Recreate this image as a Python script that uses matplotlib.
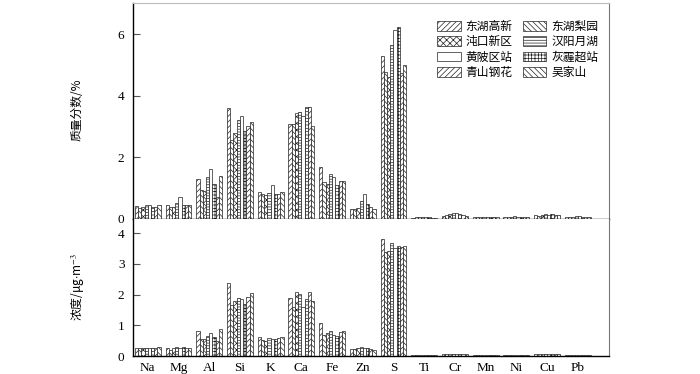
import matplotlib.pyplot as plt
import numpy as np

plt.rcParams['font.family'] = ['Liberation Serif', 'Noto Sans CJK SC', 'DejaVu Sans']
plt.rcParams['mathtext.fontset'] = 'stix'
plt.rcParams['hatch.linewidth'] = 0.5

elements = ['Na', 'Mg', 'Al', 'Si', 'K', 'Ca', 'Fe', 'Zn', 'S', 'Ti', 'Cr', 'Mn', 'Ni', 'Cu', 'Pb']
stations = ['东湖高新', '东湖梨园', '沌口新区', '汉阳月湖', '黄陂区站', '灰霾超站', '青山钢花', '吴家山']
hatches = ['//////', '\\\\\\\\\\\\', 'xxxxx', '------', '', '+++++', '//////', '\\\\\\\\\\\\']

# mass fraction (%), one row per element, one column per station
mass_frac = [
    [0.41, 0.35, 0.37, 0.43, 0.46, 0.39, 0.39, 0.43],
    [0.46, 0.39, 0.37, 0.52, 0.72, 0.46, 0.43, 0.46],
    [1.29, 0.93, 0.89, 1.34, 1.61, 1.13, 0.72, 1.39],
    [3.60, 2.55, 2.80, 3.21, 3.34, 2.85, 3.00, 3.15],
    [0.87, 0.80, 0.76, 0.85, 1.08, 0.80, 0.80, 0.87],
    [3.08, 3.08, 3.45, 3.47, 3.34, 3.64, 3.64, 3.02],
    [1.69, 1.19, 1.13, 1.45, 1.34, 1.11, 1.24, 1.21],
    [0.31, 0.31, 0.35, 0.59, 0.80, 0.48, 0.37, 0.30],
    [5.28, 4.76, 4.59, 5.65, 6.13, 6.22, 4.72, 4.98],
    [0.03, 0.04, 0.04, 0.05, 0.04, 0.04, 0.03, 0.03],
    [0.10, 0.13, 0.15, 0.17, 0.17, 0.14, 0.11, 0.10],
    [0.06, 0.06, 0.07, 0.07, 0.07, 0.06, 0.06, 0.06],
    [0.04, 0.05, 0.06, 0.09, 0.06, 0.05, 0.05, 0.04],
    [0.12, 0.10, 0.12, 0.14, 0.13, 0.14, 0.13, 0.12],
    [0.07, 0.07, 0.07, 0.08, 0.08, 0.07, 0.07, 0.07],
]

# concentration (ug/m3)
conc = [
    [0.27, 0.25, 0.27, 0.27, 0.27, 0.27, 0.27, 0.29],
    [0.27, 0.21, 0.25, 0.29, 0.25, 0.29, 0.25, 0.27],
    [0.82, 0.56, 0.55, 0.65, 0.76, 0.61, 0.50, 0.87],
    [2.36, 1.65, 1.78, 1.89, 1.85, 1.70, 1.91, 2.04],
    [0.61, 0.52, 0.50, 0.59, 0.56, 0.56, 0.59, 0.61],
    [1.89, 1.58, 2.08, 2.02, 1.61, 1.85, 2.08, 1.80],
    [1.06, 0.69, 0.76, 0.80, 0.67, 0.65, 0.78, 0.80],
    [0.22, 0.22, 0.26, 0.30, 0.26, 0.26, 0.24, 0.20],
    [3.79, 3.38, 3.40, 3.66, 3.51, 3.58, 3.55, 3.58],
    [0.02, 0.02, 0.02, 0.02, 0.02, 0.02, 0.02, 0.02],
    [0.05, 0.06, 0.07, 0.08, 0.08, 0.06, 0.05, 0.05],
    [0.03, 0.03, 0.04, 0.04, 0.04, 0.03, 0.03, 0.03],
    [0.02, 0.02, 0.03, 0.03, 0.03, 0.02, 0.02, 0.02],
    [0.07, 0.06, 0.06, 0.07, 0.08, 0.08, 0.07, 0.07],
    [0.04, 0.04, 0.04, 0.04, 0.04, 0.04, 0.04, 0.04],
]

fig = plt.figure(figsize=(7, 3.74), dpi=100)
ax1 = fig.add_axes([0.1896, 0.4152, 0.681, 0.576])
ax2 = fig.add_axes([0.1896, 0.0481, 0.681, 0.3671])

x = np.arange(len(elements))
w = 0.105
mf = np.array(mass_frac)
cc = np.array(conc)
handles = []
for i, st in enumerate(stations):
    off = (i - 3.5) * w
    b = ax1.bar(x + off, mf[:, i], w, color='white', edgecolor='#222222',
                linewidth=0.5, hatch=hatches[i], label=st)
    ax2.bar(x + off, cc[:, i], w, color='white', edgecolor='#222222',
            linewidth=0.5, hatch=hatches[i])
    handles.append(b)

ax1.set_ylim(0, 7.0)
ax1.set_yticks([0, 2, 4, 6])
ax2.set_ylim(0, 4.465)
ax2.set_yticks([0, 1, 2, 3, 4])

for ax in (ax1, ax2):
    ax.set_xlim(-0.49, 15.03)
    ax.tick_params(axis='y', direction='in', length=5, width=0.8, pad=6,
                   labelsize=9.5, color='#555555')
    ax.spines['left'].set_linewidth(1.0)
    ax.spines['right'].set_color('#777777')
    ax.spines['right'].set_linewidth(0.8)
    ax.spines['top'].set_color('#bbbbbb')
    ax.spines['top'].set_linewidth(0.8)
    ax.spines['bottom'].set_linewidth(1.0)

ax1.set_xticks([])
ax2.spines['top'].set_visible(False)
ax2.set_xticks(x)
ax2.set_xticklabels(elements)
ax2.tick_params(axis='x', length=0, pad=4, labelsize=9.5)

# legend: row-wise order in two columns
order = [0, 2, 4, 6, 1, 3, 5, 7]
ax1.legend([handles[k] for k in order], [stations[k] for k in order],
           ncol=2, loc='upper left', bbox_to_anchor=(431 / 700, 1 - 14 / 374),
           bbox_transform=fig.transFigure, frameon=False, borderpad=0,
           handlelength=2.0, handleheight=0.85, handletextpad=0.4,
           columnspacing=0.9, labelspacing=0.2,
           prop={'family': ['Noto Sans CJK SC', 'DejaVu Sans'], 'size': 8.5})

fig.text(77 / 700, 1 - 110 / 374, '质量分数/%', rotation=90, ha='center', va='center',
         family=['Noto Sans CJK SC', 'DejaVu Sans'], fontsize=8.5)
fig.text(77 / 700, 1 - 287 / 374, '浓度/μg$\\cdot$m$^{-3}$', rotation=90, ha='center',
         va='center', family=['Noto Sans CJK SC', 'DejaVu Sans'], fontsize=8.5)

fig.savefig('out.png', dpi=100)
